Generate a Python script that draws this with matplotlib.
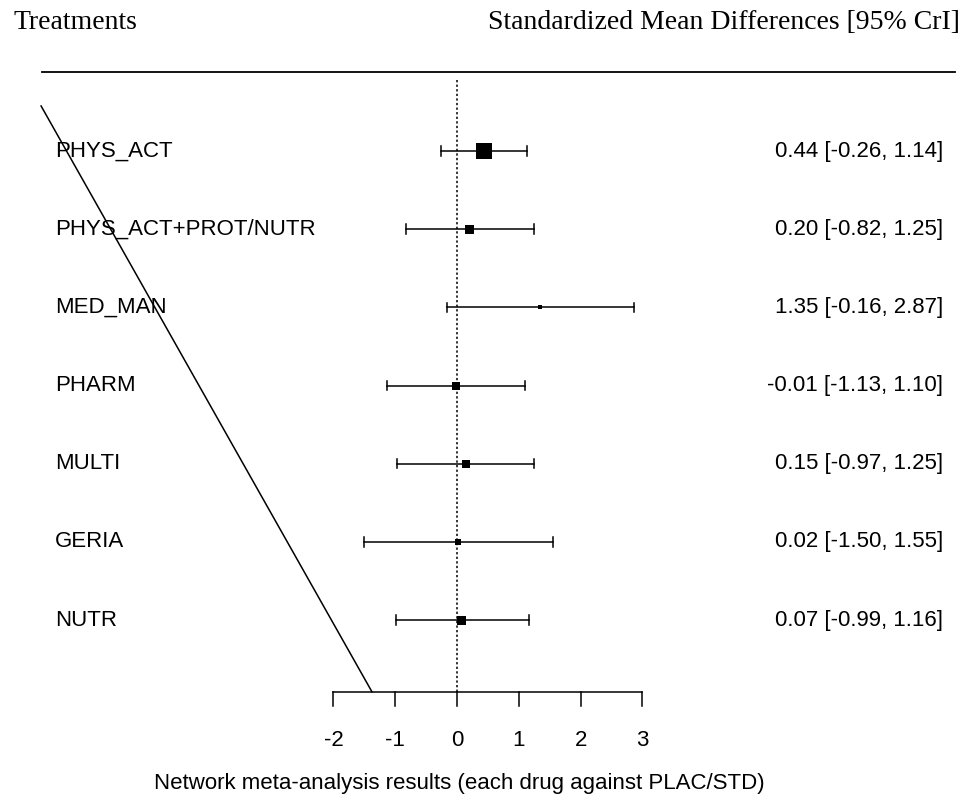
import matplotlib.pyplot as plt

treatments = ["PHYS_ACT", "PHYS_ACT+PROT/NUTR", "MED_MAN", "PHARM", "MULTI", "GERIA", "NUTR"]
smd = [0.44, 0.20, 1.35, -0.01, 0.15, 0.02, 0.07]
lower = [-0.26, -0.82, -0.16, -1.13, -0.97, -1.50, -0.99]
upper = [1.14, 1.25, 2.87, 1.10, 1.25, 1.55, 1.16]
weights = [16, 9, 5, 8, 8, 6, 9]  # box side in px, relative weight of each estimate
ticks = [-2, -1, 0, 1, 2, 3]

fig = plt.figure(figsize=(9.65, 8), dpi=100)
ax = fig.add_axes([0, 0, 1, 1])
# one unit on x = 61.8 px, zero at px 457; rows 78.17 px apart, first row at px 151
ax.set_xlim(-457 / 61.8, (965 - 457) / 61.8)
ax.set_ylim((800 - 151) / 78.17, -151 / 78.17)
ax.axis("off")

sans = "Liberation Sans"
serif = "Liberation Serif"

rows = list(range(len(treatments)))

# headers and top rule
ax.text(-7.18, -1.561, "Treatments", family=serif, fontsize=20, ha="left", va="baseline")
ax.text(8.139, -1.561, "Standardized Mean Differences [95% CrI]", family=serif, fontsize=20,
        ha="right", va="baseline")
ax.plot([-6.715, 8.06], [-1.01, -1.01], color="black", lw=1.3, clip_on=False)

# odd diagonal stroke present in the original
ax.plot([-6.73, -1.375], [-0.576, 6.92], color="black", lw=1.1)

# reference line at zero
ax.plot([0, 0], [-0.91, 6.92], color="black", lw=1.1, linestyle=(0, (1.5, 1.5)))

for i in rows:
    ax.plot([lower[i], upper[i]], [i, i], color="black", lw=1.1)
    for end in (lower[i], upper[i]):
        ax.plot([end, end], [i - 0.06, i + 0.06], color="black", lw=1.1)
    ax.plot(smd[i], i, marker="s", color="black", markersize=weights[i] * 0.72, mew=0)
    ax.text(-6.505, i, treatments[i], family=sans, fontsize=16, ha="left", va="center")
    ax.text(7.864, i, f"{smd[i]:.2f} [{lower[i]:.2f}, {upper[i]:.2f}]", family=sans,
            fontsize=16, ha="right", va="center")

# bottom axis
ax.plot([ticks[0], ticks[-1]], [6.92, 6.92], color="black", lw=1.1)
for t in ticks:
    ax.plot([t, t], [6.92, 7.10], color="black", lw=1.1)
    ax.text(t, 7.535, str(t), family=sans, fontsize=16, ha="center", va="center")
ax.text(0.03, 8.085, "Network meta-analysis results (each drug against PLAC/STD)",
        family=sans, fontsize=16, ha="center", va="center")

fig.savefig("out.png", dpi=100)
